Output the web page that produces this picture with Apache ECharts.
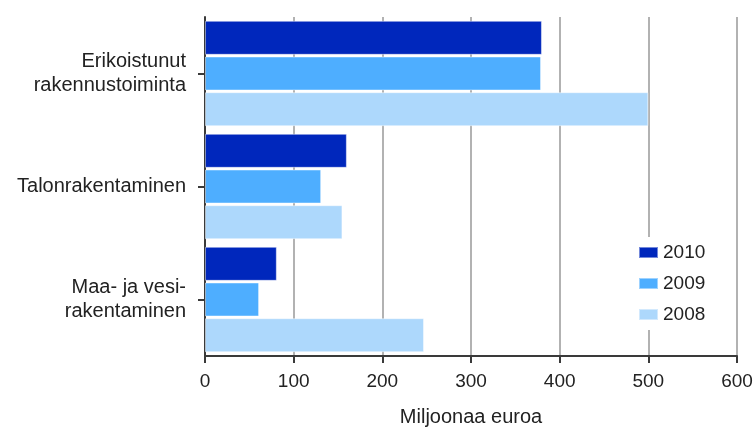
<!DOCTYPE html>
<html>
<head>
<meta charset="utf-8">
<script src="https://cdn.jsdelivr.net/npm/echarts@6/dist/echarts.min.js"></script>
<style>
html,body{margin:0;padding:0;background:#fff;}
#chart{width:754px;height:427px;}
</style>
</head>
<body>
<div id="chart"></div>
<script>
const categories = ['Erikoistunut\nrakennustoiminta', 'Talonrakentaminen', 'Maa- ja vesi-\nrakentaminen'];
const seriesNames = ['2010', '2009', '2008'];
const values2010 = [380, 160, 81];
const values2009 = [379, 131, 61];
const values2008 = [500, 155, 247];
const xTicks = [0, 100, 200, 300, 400, 500, 600];
const colors = ['#0027BC', '#4EAEFF', '#ADD8FC'];

const seriesValues = [values2010, values2009, values2008];
const font = 'Liberation Sans, Arial, sans-serif';

const chart = echarts.init(document.getElementById('chart'), null, {renderer: 'canvas'});
chart.setOption({
  animation: false,
  backgroundColor: '#ffffff',
  grid: {left: 205, right: 17, top: 17, bottom: 71, containLabel: false, outerBoundsMode: 'none'},
  legend: {
    data: seriesNames,
    orient: 'vertical',
    left: 630,
    top: 237,
    itemWidth: 19,
    itemHeight: 11,
    itemGap: 12,
    padding: [6, 8, 6, 8],
    backgroundColor: '#ffffff',
    icon: 'rect',
    textStyle: {fontFamily: font, fontSize: 19, color: '#222'}
  },
  xAxis: {
    type: 'value',
    min: xTicks[0],
    max: xTicks[xTicks.length - 1],
    interval: 100,
    name: 'Miljoonaa euroa',
    nameLocation: 'middle',
    nameGap: 51,
    nameTextStyle: {fontFamily: font, fontSize: 20, color: '#222'},
    axisLine: {show: true, lineStyle: {color: '#3a3a3a', width: 2}},
    axisTick: {show: true, length: 7, lineStyle: {color: '#3a3a3a', width: 2}},
    axisLabel: {fontFamily: font, fontSize: 19, color: '#222', margin: 16},
    splitLine: {show: true, lineStyle: {color: '#999', width: 1.5}}
  },
  yAxis: {
    type: 'category',
    data: categories,
    inverse: true,
    axisLine: {show: true, lineStyle: {color: '#3a3a3a', width: 2}},
    axisTick: {show: true, alignWithLabel: true, length: 7, lineStyle: {color: '#3a3a3a', width: 2}},
    axisLabel: {fontFamily: font, fontSize: 20, color: '#222', margin: 19, lineHeight: 24, align: 'right'},
    splitLine: {show: false}
  },
  series: seriesNames.map((name, i) => ({
    name: name,
    type: 'bar',
    data: seriesValues[i],
    barWidth: 34,
    barGap: '5%',
    itemStyle: {color: colors[i], borderColor: 'rgba(255,255,255,0.45)', borderWidth: 1}
  }))
});
</script>
</body>
</html>
